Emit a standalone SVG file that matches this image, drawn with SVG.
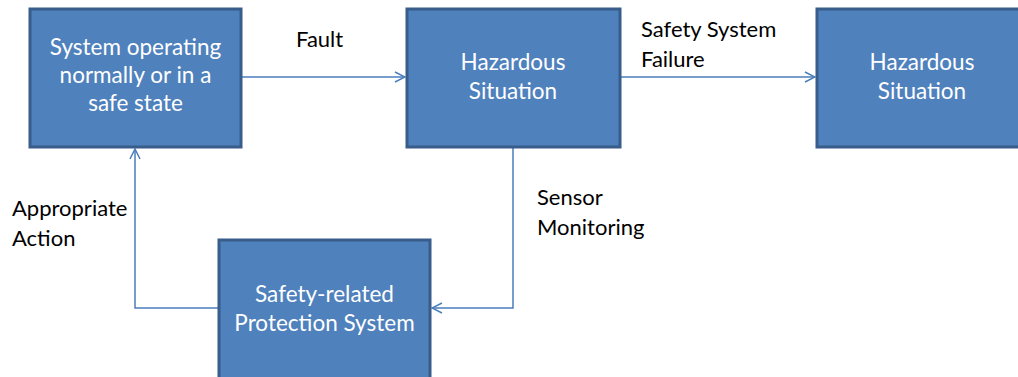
<svg xmlns="http://www.w3.org/2000/svg" width="1018" height="377" viewBox="0 0 1018 377">
<style>
.box{fill:#4f81bd;stroke:#385d8a;stroke-width:3}
.bt{font-family:Lato,"Open Sans",sans-serif;font-size:22.5px;fill:#ffffff;text-anchor:middle}
.lb{font-family:Lato,"Open Sans",sans-serif;font-size:22px;fill:#000000}
.con{fill:none;stroke:#4a7ebb;stroke-width:1.5}
</style>
<defs>
<marker id="arr" viewBox="0 0 12 12" refX="11" refY="6" markerWidth="12" markerHeight="12" markerUnits="userSpaceOnUse" orient="auto">
<path d="M1,1 L11,6 L1,11" fill="none" stroke="#4a7ebb" stroke-width="1.5"/>
</marker>
</defs>
<g id="connectors">
<path class="con" d="M241,77 L405,77" marker-end="url(#arr)"/>
<path class="con" d="M620,77 L815,77" marker-end="url(#arr)"/>
<path class="con" d="M513,147 L513,308 L432,308" marker-end="url(#arr)"/>
<path class="con" d="M218,308 L135,308 L135,149" marker-end="url(#arr)"/>
</g>
<g id="node-normal">
<rect class="box" x="30" y="9" width="211" height="138"/>
<text class="bt" x="135.5" y="55">System operating</text>
<text class="bt" x="135.5" y="83">normally or in a</text>
<text class="bt" x="135.5" y="111">safe state</text>
</g>
<g id="node-hazard1">
<rect class="box" x="407" y="9" width="213" height="138"/>
<text class="bt" x="513" y="70">Hazardous</text>
<text class="bt" x="513" y="99">Situation</text>
</g>
<g id="node-hazard2">
<rect class="box" x="817" y="9" width="213" height="138"/>
<text class="bt" x="922" y="70">Hazardous</text>
<text class="bt" x="922" y="99">Situation</text>
</g>
<g id="node-protection">
<rect class="box" x="219" y="240" width="211" height="145"/>
<text class="bt" x="324.5" y="302">Safety-related</text>
<text class="bt" x="324.5" y="331">Protection System</text>
</g>
<g id="labels">
<text class="lb" x="296" y="47">Fault</text>
<text class="lb" x="641" y="37">Safety System</text>
<text class="lb" x="641" y="67">Failure</text>
<text class="lb" x="537" y="205">Sensor</text>
<text class="lb" x="537" y="235">Monitoring</text>
<text class="lb" x="12" y="216">Appropriate</text>
<text class="lb" x="12" y="246">Action</text>
</g>
</svg>
